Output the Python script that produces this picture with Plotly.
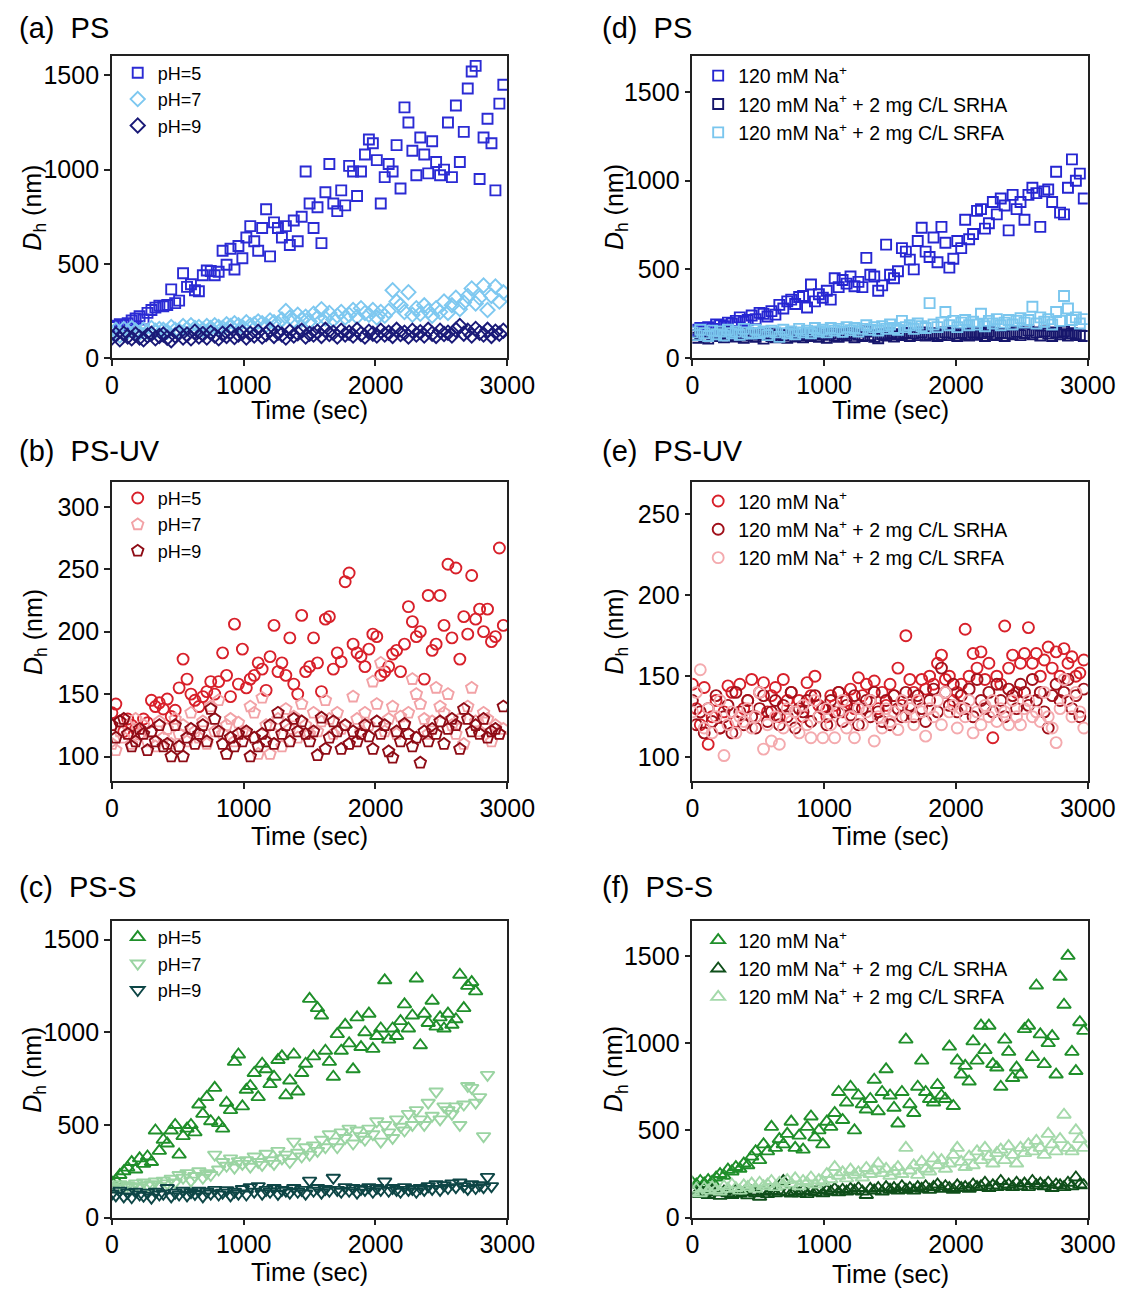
import plotly.graph_objects as go

# ---------------- data ----------------
T = [0, 30, 60, 90, 120, 150, 180, 210, 240, 270, 300, 330, 360, 390, 420, 450, 480, 510, 540, 570,
     600, 630, 660, 690, 720, 750, 780, 810, 840, 870, 900, 930, 960, 990, 1020, 1050, 1080, 1110, 1140, 1170,
     1200, 1230, 1260, 1290, 1320, 1350, 1380, 1410, 1440, 1470, 1500, 1530, 1560, 1590, 1620, 1650, 1680, 1710, 1740, 1770,
     1800, 1830, 1860, 1890, 1920, 1950, 1980, 2010, 2040, 2070, 2100, 2130, 2160, 2190, 2220, 2250, 2280, 2310, 2340, 2370,
     2400, 2430, 2460, 2490, 2520, 2550, 2580, 2610, 2640, 2670, 2700, 2730, 2760, 2790, 2820, 2850, 2880, 2910, 2940, 2970]

# (a) PS, pH series
a_ph5 = [165, 172, 180, 176, 185, 200, 210, 222, 205, 240, 255, 268, 278, 275, 282, 365, 292, 305, 450, 378,
         392, 360, 355, 440, 465, 462, 440, 458, 570, 495, 580, 470, 595, 530, 640, 700, 620, 570, 690, 790,
         540, 720, 690, 640, 700, 600, 730, 620, 750, 990, 820, 690, 800, 610, 880, 1030, 820, 780, 890, 810,
         1020, 990, 860, 990, 1080, 1160, 1140, 1050, 820, 960, 1030, 990, 1130, 900, 1330, 1250, 1100, 970, 1170, 1080,
         980, 1150, 1040, 970, 1000, 1250, 960, 1340, 1040, 1200, 1430, 1520, 1550, 950, 1170, 1270, 1140, 890, 1350, 1450]
a_ph7 = [130, 150, 120, 155, 140, 160, 145, 135, 150, 140, 160, 145, 155, 150, 140, 165, 150, 145, 170, 155,
         175, 160, 165, 150, 170, 160, 175, 165, 160, 180, 170, 185, 175, 165, 190, 175, 180, 195, 185, 175,
         200, 190, 185, 205, 250, 215, 200, 230, 205, 220, 195, 235, 215, 260, 210, 240, 205, 225, 245, 215,
         230, 255, 220, 265, 240, 230, 255, 215, 245, 225, 250, 360, 300, 280, 245, 350, 230, 265, 235, 280,
         250, 225, 265, 245, 300, 240, 280, 320, 260, 295, 330, 370, 290, 320, 385, 255, 330, 380, 300, 350]
a_ph9 = [110, 125, 100, 130, 115, 105, 125, 110, 100, 120, 130, 105, 118, 125, 108, 95, 120, 135, 110, 125,
         105, 140, 115, 128, 110, 135, 120, 105, 130, 118, 140, 112, 125, 135, 110, 130, 120, 140, 115, 128,
         150, 118, 135, 125, 110, 140, 120, 132, 145, 115, 130, 125, 140, 118, 150, 128, 135, 115, 145, 125,
         135, 120, 150, 128, 115, 140, 130, 120, 145, 125, 135, 118, 150, 128, 135, 115, 145, 125, 138, 120,
         150, 130, 118, 145, 128, 135, 120, 150, 170, 130, 145, 120, 155, 135, 125, 150, 118, 140, 130, 145]

# (b) PS-UV, pH series
b_ph5 = [135, 142, 128, 120, 130, 125, 122, 118, 130, 127, 145, 140, 143, 138, 146, 132, 137, 155, 178, 162,
         150, 145, 140, 148, 152, 160, 150, 160, 183, 165, 148, 206, 158, 186, 155, 162, 165, 175, 170, 153,
         180, 205, 168, 175, 165, 195, 158, 150, 213, 168, 172, 195, 175, 152, 210, 212, 170, 183, 176, 240,
         247, 190, 183, 180, 172, 186, 198, 196, 165, 168, 172, 182, 185, 168, 190, 220, 208, 196, 200, 162,
         229, 185, 190, 229, 205, 254, 195, 251, 178, 212, 198, 245, 210, 218, 200, 218, 192, 196, 267, 205]
b_ph7 = [110, 105, 120, 115, 125, 110, 130, 118, 125, 112, 120, 108, 128, 115, 122, 110, 130, 118, 125, 112,
         135, 120, 115, 128, 110, 140, 120, 145, 118, 125, 130, 112, 127, 120, 118, 140, 135, 102, 147, 125,
         102, 118, 130, 108, 138, 122, 132, 115, 142, 125, 118, 135, 120, 128, 145, 130, 118, 135, 122, 125,
         110, 148, 130, 120, 135, 125, 160, 142, 175, 120, 130, 140, 118, 132, 125, 135, 162, 150, 142, 130,
         118, 128, 155, 140, 135, 150, 125, 118, 130, 110, 140, 155, 128, 120, 135, 130, 112, 125, 118, 122]
b_ph9 = [125, 115, 128, 130, 118, 108, 112, 122, 118, 105, 120, 112, 125, 108, 110, 100, 125, 108, 100, 115,
         122, 110, 118, 125, 112, 138, 130, 120, 110, 102, 115, 108, 118, 112, 120, 100, 115, 108, 118, 112,
         125, 110, 135, 118, 125, 112, 130, 120, 128, 118, 112, 120, 101, 131, 106, 115, 128, 120, 106, 125,
         110, 120, 112, 118, 125, 116, 106, 128, 118, 125, 104, 99, 120, 112, 126, 118, 108, 115, 95, 120,
         112, 122, 118, 128, 110, 122, 130, 125, 106, 138, 130, 120, 125, 118, 130, 115, 120, 122, 118, 140]

# (c) PS-S, pH series
c_ph5 = [190, 200, 230, 250, 270, 300, 260, 320, 290, 330, 300, 470, 360, 420, 400, 470, 500, 340, 440, 480,
         500, 460, 610, 560, 650, 520, 700, 510, 480, 620, 580, 840, 880, 600, 690, 710, 780, 650, 830, 800,
         720, 760, 850, 870, 660, 740, 880, 680, 780, 830, 1180, 870, 1130, 1090, 900, 840, 760, 990, 900, 1040,
         940, 800, 1080, 920, 1000, 1100, 910, 980, 1020, 1280, 960, 1020, 980, 1060, 1150, 1020, 1090, 1290, 930, 1100,
         1050, 1170, 1030, 1080, 1020, 1100, 1040, 1070, 1310, 1130, 1250, 1270, 1220]
c_ph7 = [170, 160, 180, 165, 175, 170, 185, 165, 190, 175, 180, 195, 170, 200, 185, 210, 190, 230, 215, 240,
         200, 225, 250, 215, 240, 230, 340, 260, 300, 280, 320, 270, 305, 290, 310, 275, 330, 300, 285, 345,
         310, 290, 360, 320, 340, 300, 410, 350, 330, 380, 340, 390, 360, 420, 380, 450, 410, 380, 460, 430,
         480, 400, 470, 440, 420, 480, 450, 520, 410, 500, 460, 430, 530, 490, 470, 560, 500, 580, 530, 500,
         620, 550, 680, 530, 600, 580, 560, 600, 500, 610, 710, 700, 620, 650, 440, 770]
c_ph9 = [130, 120, 145, 115, 135, 110, 140, 125, 118, 135, 108, 140, 125, 130, 160, 115, 135, 125, 145, 120,
         138, 128, 145, 115, 140, 130, 150, 125, 135, 148, 120, 140, 130, 155, 125, 165, 140, 170, 130, 150,
         140, 160, 128, 150, 145, 135, 160, 140, 150, 130, 200, 145, 160, 135, 155, 145, 215, 150, 140, 165,
         145, 160, 135, 155, 150, 165, 140, 160, 150, 195, 145, 160, 150, 140, 165, 150, 155, 140, 160, 150,
         170, 155, 180, 150, 175, 160, 185, 165, 190, 170, 155, 180, 160, 175, 165, 220, 170]

# (d) PS, ionic composition series
d_na = [160, 150, 170, 155, 175, 165, 190, 185, 180, 200, 195, 210, 230, 205, 215, 240, 220, 255, 250, 235,
        265, 245, 300, 280, 320, 330, 305, 345, 350, 285, 415, 320, 360, 340, 380, 330, 450, 400, 440, 420,
        460, 405, 430, 400, 565, 470, 460, 380, 410, 640, 470, 450, 490, 620, 600, 555, 500, 660, 735, 600,
        570, 680, 540, 740, 650, 510, 560, 660, 620, 780, 670, 700, 830, 840, 730, 760, 880, 810, 900, 860,
        720, 920, 840, 880, 780, 920, 960, 930, 740, 940, 950, 880, 1050, 820, 810, 960, 1120, 1000, 1040, 900]
d_srha = [130, 115, 140, 120, 110, 135, 125, 140, 118, 130, 145, 122, 135, 115, 128, 140, 120, 132, 110, 138,
          125, 118, 135, 128, 115, 140, 122, 130, 118, 135, 125, 140, 120, 132, 115, 138, 126, 120, 135, 128,
          140, 118, 132, 125, 150, 130, 120, 112, 135, 128, 140, 122, 135, 130, 142, 125, 138, 130, 145, 128,
          135, 140, 125, 132, 145, 130, 138, 125, 142, 135, 128, 145, 132, 140, 125, 148, 135, 130, 142, 125,
          140, 135, 148, 130, 142, 155, 135, 145, 128, 150, 138, 125, 145, 135, 150, 128, 140, 135, 130, 125]
d_srfa = [145, 130, 160, 140, 125, 155, 135, 150, 128, 160, 140, 150, 132, 165, 145, 138, 160, 142, 150, 130,
          155, 145, 120, 160, 140, 150, 135, 165, 145, 155, 140, 170, 150, 160, 145, 170, 155, 165, 148, 175,
          158, 170, 150, 165, 185, 160, 175, 155, 180, 165, 190, 170, 160, 210, 175, 185, 165, 195, 180, 170,
          310, 190, 175, 200, 260, 185, 210, 175, 200, 215, 185, 205, 190, 250, 180, 210, 195, 220, 185, 200,
          215, 190, 210, 225, 200, 215, 290, 195, 230, 205, 220, 190, 260, 210, 350, 280, 215, 230, 195, 220]

# (e) PS-UV, ionic composition series
e_na = [145, 130, 120, 143, 108, 125, 135, 118, 128, 144, 140, 122, 145, 130, 135, 148, 125, 140, 146, 128,
        138, 143, 125, 148, 135, 140, 128, 135, 125, 146, 138, 150, 132, 130, 125, 138, 132, 140, 128, 135,
        142, 130, 149, 138, 145, 135, 147, 130, 140, 132, 145, 138, 155, 132, 175, 148, 140, 135, 148, 142,
        150, 145, 158, 163, 148, 150, 135, 140, 145, 179, 150, 164, 155, 165, 148, 158, 112, 150, 145, 181,
        155, 163, 140, 158, 164, 180, 158, 164, 150, 160, 168, 155, 165, 150, 167, 158, 162, 150, 152, 160]
e_srha = [135, 120, 128, 115, 130, 122, 138, 118, 125, 132, 115, 140, 128, 120, 135, 125, 118, 130, 138, 122,
          128, 135, 120, 132, 125, 140, 118, 130, 128, 135, 122, 138, 125, 130, 120, 135, 128, 140, 122, 132,
          126, 138, 120, 130, 135, 125, 140, 128, 122, 135, 120, 138, 130, 125, 140, 132, 125, 138, 130, 122,
          135, 142, 128, 155, 140, 132, 145, 128, 138, 130, 142, 125, 148, 135, 130, 140, 128, 145, 135, 125,
          142, 138, 130, 145, 140, 132, 148, 135, 140, 128, 118, 138, 145, 135, 140, 148, 130, 138, 125, 142]
e_srfa = [128, 140, 154, 118, 130, 115, 125, 135, 101, 120, 128, 115, 125, 122, 130, 118, 125, 140, 105, 120,
          110, 125, 108, 118, 130, 122, 128, 115, 132, 120, 112, 135, 125, 112, 130, 120, 112, 128, 135, 118,
          125, 112, 130, 120, 128, 135, 110, 125, 118, 130, 122, 128, 117, 135, 125, 130, 120, 135, 128, 113,
          130, 125, 135, 120, 140, 128, 132, 118, 130, 125, 135, 115, 128, 120, 132, 125, 135, 122, 130, 128,
          120, 135, 125, 120, 130, 135, 125, 128, 122, 140, 125, 118, 109, 130, 148, 135, 125, 140, 128, 118]

# (f) PS-S, ionic composition series
f_na = [200, 190, 210, 195, 215, 205, 230, 250, 240, 275, 265, 290, 280, 310, 300, 350, 380, 330, 420, 380,
        520, 400, 450, 420, 480, 550, 400, 470, 390, 520, 580, 460, 500, 420, 550, 520, 600, 720, 560, 660,
        750, 500, 700, 650, 620, 680, 790, 610, 720, 850, 700, 630, 540, 720, 1020, 650, 600, 750, 900, 720,
        680, 660, 760, 700, 680, 980, 640, 900, 820, 870, 780, 1010, 900, 1100, 960, 1100, 880, 860, 750, 1020,
        950, 800, 860, 820, 1080, 1100, 920, 1330, 1050, 880, 1000, 1040, 820, 1380, 1220, 1500, 950, 840, 1120, 1070]
f_srha = [150, 135, 160, 140, 130, 155, 145, 125, 150, 140, 130, 155, 138, 145, 128, 150, 140, 120, 148, 135,
          155, 140, 150, 210, 145, 138, 150, 140, 155, 135, 150, 145, 160, 140, 155, 148, 165, 145, 160, 150,
          165, 155, 170, 150, 130, 165, 155, 170, 150, 175, 160, 170, 155, 180, 160, 170, 155, 175, 165, 180,
          160, 175, 190, 165, 180, 170, 160, 185, 170, 175, 165, 190, 175, 180, 200, 170, 185, 175, 210, 180,
          190, 175, 200, 180, 195, 175, 210, 185, 195, 180, 200, 170, 190, 185, 175, 200, 180, 230, 190, 185]
f_srfa = [150, 165, 140, 170, 155, 175, 160, 150, 180, 165, 190, 170, 155, 185, 175, 195, 165, 200, 180, 190,
          210, 175, 200, 185, 215, 195, 225, 180, 210, 200, 230, 190, 215, 205, 250, 220, 290, 240, 260, 225,
          275, 245, 260, 230, 285, 250, 270, 310, 255, 280, 240, 265, 290, 250, 400, 270, 300, 245, 320, 280,
          265, 340, 300, 330, 280, 310, 360, 400, 320, 290, 350, 300, 380, 330, 400, 350, 310, 370, 390, 330,
          410, 360, 310, 400, 370, 420, 380, 440, 400, 360, 480, 420, 380, 450, 590, 400, 380, 500, 450, 400]

NA_LABELS = ["120 mM Na<sup>+</sup>",
             "120 mM Na<sup>+</sup> + 2 mg C/L SRHA",
             "120 mM Na<sup>+</sup> + 2 mg C/L SRFA"]
PH_LABELS = ["pH=5", "pH=7", "pH=9"]

# ---------------- styling / layout ----------------
# page body has an 8px default margin -> the figure is drawn 8px in from the top-left corner
OFF = 8
W, H = 1147 - 2 * OFF, 1302 - 2 * OFF
FONT = "Liberation Sans, Arial, sans-serif"

def px_x(v):
    return (v - OFF) / W

def px_y(v):
    return 1 - (v - OFF) / H

XL = [px_x(108), px_x(516)]
XR = [px_x(707), px_x(1115)]
Y1 = [px_y(362), px_y(57)]
Y2 = [px_y(790), px_y(487)]
Y3 = [px_y(1231), px_y(931)]

panels = [
    (1, XL, Y1, [0, 1600], [0, 500, 1000, 1500], [a_ph5, a_ph7, a_ph9], PH_LABELS,
     ["#2b2bd4", "#7ec8f0", "#1a1a78"], ["square-open", "diamond-open", "diamond-open"], "(a)\u00a0\u00a0PS", (10, 28)),
    (2, XL, Y2, [80, 320], [100, 150, 200, 250, 300], [b_ph5, b_ph7, b_ph9], PH_LABELS,
     ["#d8202a", "#f2a2a6", "#8e0c16"], ["circle-open", "pentagon-open", "pentagon-open"], "(b)\u00a0\u00a0PS-UV", (10, 456)),
    (3, XL, Y3, [0, 1600], [0, 500, 1000, 1500], [c_ph5, c_ph7, c_ph9], PH_LABELS,
     ["#1f8f2a", "#9ad4a2", "#0e4646"], ["triangle-up-open", "triangle-down-open", "triangle-down-open"], "(c)\u00a0\u00a0PS-S", (10, 897)),
    (4, XR, Y1, [0, 1700], [0, 500, 1000, 1500], [d_na, d_srha, d_srfa], NA_LABELS,
     ["#2626d2", "#16166c", "#7ac6ee"], ["square-open", "square-open", "square-open"], "(d)\u00a0\u00a0PS", (612, 28)),
    (5, XR, Y2, [85, 270], [100, 150, 200, 250], [e_na, e_srha, e_srfa], NA_LABELS,
     ["#d8202a", "#a0101a", "#f4aaae"], ["circle-open", "circle-open", "circle-open"], "(e)\u00a0\u00a0PS-UV", (612, 456)),
    (6, XR, Y3, [0, 1700], [0, 500, 1000, 1500], [f_na, f_srha, f_srfa], NA_LABELS,
     ["#1f8f2a", "#0f4f1a", "#a4d9aa"], ["triangle-up-open", "triangle-up-open", "triangle-up-open"], "(f)\u00a0\u00a0PS-S", (612, 897)),
]

SIZES = {"square-open": 10, "diamond-open": 11, "circle-open": 11, "pentagon-open": 12,
         "triangle-up-open": 12, "triangle-down-open": 12}

fig = go.Figure()
layout = dict(width=W, height=H, margin=dict(l=0, r=0, t=0, b=0),
              paper_bgcolor="white", plot_bgcolor="white",
              font=dict(family=FONT, color="black", size=20), annotations=[])

xtitle_y = {1: 414, 2: 845, 3: 1286, 4: 414, 5: 845, 6: 1288}
for (k, xd, yd, yr, yt, series, labels, colors, symbols, title, tpos) in panels:
    sfx = "" if k == 1 else str(k)
    leg = "legend" if k == 1 else f"legend{k}"
    for vals, lab, col, sym in zip(series, labels, colors, symbols):
        fig.add_trace(go.Scatter(
            x=T[:len(vals)], y=vals, mode="markers", name=lab,
            xaxis="x" + sfx, yaxis="y" + sfx, legend=leg,
            marker=dict(symbol=sym, size=SIZES[sym], color=col, line=dict(color=col, width=1.9)),
        ))
    axcommon = dict(showline=True, linecolor="#222", linewidth=1.6, mirror=True,
                    ticks="outside", ticklen=6, tickwidth=1.6, tickcolor="#222",
                    showgrid=False, zeroline=False,
                    tickfont=dict(family=FONT, size=25, color="black"))
    layout["xaxis" + sfx] = dict(domain=xd, range=[0, 3000], tickvals=[0, 1000, 2000, 3000],
                                 anchor="y" + sfx, ticklabelstandoff=-2, **axcommon)
    layout["yaxis" + sfx] = dict(domain=yd, range=yr, tickvals=yt, anchor="x" + sfx, **axcommon)
    left = xd is XL
    layout[leg] = dict(x=xd[0] + 6 / W, y=yd[1] + (2 if left else 0) / H, xanchor="left", yanchor="top",
                       bgcolor="rgba(0,0,0,0)", borderwidth=0,
                       font=dict(family=FONT, size=18 if left else 19.5, color="black"),
                       itemsizing="trace", tracegroupgap=0)
    layout["annotations"].append(dict(text=title, x=px_x(tpos[0]), y=px_y(tpos[1]), xref="paper", yref="paper",
                                      xanchor="left", yanchor="middle", showarrow=False,
                                      font=dict(family=FONT, size=29, color="black")))
    layout["annotations"].append(dict(text="Time (sec)", x=(xd[0] + xd[1]) / 2, y=px_y(xtitle_y[k]),
                                      xref="paper", yref="paper", xanchor="center", yanchor="middle",
                                      showarrow=False, font=dict(family=FONT, size=25, color="black")))
    ytx = 28 if left else 628
    layout["annotations"].append(dict(text="<i>D</i><sub>h</sub> (nm)", x=px_x(ytx), y=(yd[0] + yd[1]) / 2,
                                      xref="paper", yref="paper", xanchor="center", yanchor="middle",
                                      textangle=-90, showarrow=False,
                                      font=dict(family=FONT, size=25, color="black")))

fig.update_layout(**layout)
fig.write_html("out.html")
